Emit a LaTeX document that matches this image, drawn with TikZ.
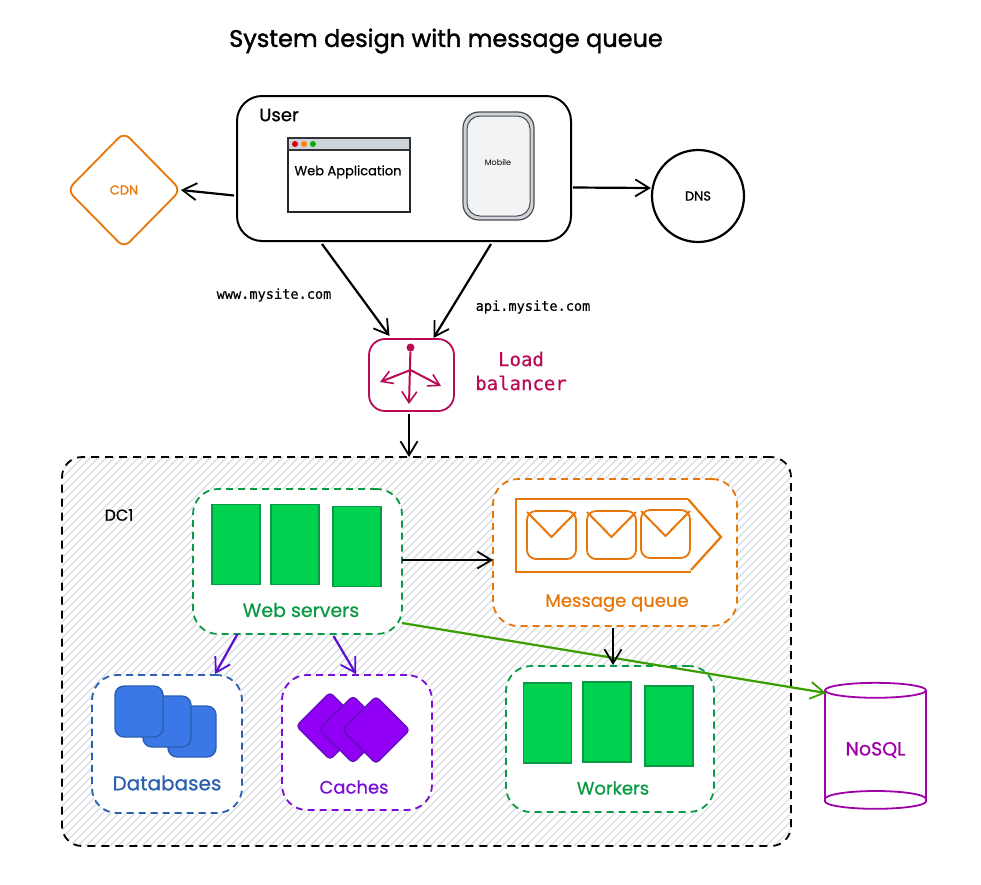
\documentclass[tikz,border=0pt]{standalone}
\usepackage{fontspec}
\setmainfont{Poppins}
\newfontfamily\handbold{Poppins}[FakeBold=0.7]
\newfontfamily\titlebold{Poppins}[FakeBold=1.6]
\setmonofont{DejaVu Sans Mono}[FakeBold=0.4]
\usetikzlibrary{arrows.meta,shapes.geometric}
\definecolor{cOrange}{HTML}{E8770A}
\definecolor{cRose}{HTML}{B80A55}
\definecolor{cGreen}{HTML}{0B9A44}
\definecolor{cFill}{HTML}{00D14F}
\definecolor{cBlue}{HTML}{2B5FB0}
\definecolor{cBlueF}{HTML}{3B78E7}
\definecolor{cPurple}{HTML}{7A0DD6}
\definecolor{cPurpleD}{HTML}{5E10B8}
\definecolor{cPurpleF}{HTML}{9100F5}
\definecolor{cArrow}{HTML}{5A10D0}
\definecolor{cMag}{HTML}{A000A8}
\definecolor{cLime}{HTML}{3A9E00}
\definecolor{cHatch}{HTML}{D8DCE1}
\definecolor{cBar}{HTML}{CED4DA}
\definecolor{cPhone}{HTML}{F1F3F5}
\tikzset{
  x=1pt,y=-1pt,
  conn/.style={draw=black,line width=2.2pt,-{Straight Barb[length=14pt,width=17pt,line width=1.8pt]}},
  box/.style={draw,rectangle,rounded corners=20pt,line width=1.8pt,inner sep=0pt,outer sep=0pt},
  group/.style={box,fill=white,dashed,dash pattern=on 7pt off 5pt},
  hand/.style={inner sep=0pt,font=\handbold\fontsize{#1}{#1}\selectfont},
  hand/.default=18,
  server/.style={draw=cGreen,fill=cFill,line width=1.4pt,minimum width=48pt,minimum height=80pt,inner sep=0pt},
  dbsq/.style={draw=cBlue,fill=cBlueF,rectangle,rounded corners=9pt,line width=1.4pt,minimum width=48pt,minimum height=51pt,inner sep=0pt},
  cachedia/.style={draw=cPurpleD,fill=cPurpleF,diamond,rounded corners=4pt,line width=1.2pt,minimum width=68pt,minimum height=68pt,inner sep=0pt},
  envbox/.style={draw=cOrange,rectangle,rounded corners=9pt,line width=1.8pt,minimum width=49pt,minimum height=48pt,inner sep=0pt},
  envflap/.style={draw=cOrange,line width=2pt},
  lbl/.style={inner sep=0pt,font=\ttfamily\fontsize{13.6}{14}\selectfont},
}
\begin{document}
\begin{tikzpicture}
\useasboundingbox (0,0) rectangle (981,884);
\fill[white] (0,0) rectangle (981,884);
% title
\node[inner sep=0pt,font=\titlebold\fontsize{24}{24}\selectfont] (title) at (446,41) {System design with message queue};
% user
\node[box,rounded corners=25pt,line width=2pt,fill=white,minimum width=334pt,minimum height=145pt] (user) at (404,168.5) {};
\node[hand=18] (usert) at (279,115) {User};
\node[draw=black!85,line width=1.6pt,fill=white,minimum width=122pt,minimum height=74pt,inner sep=0pt] (web) at (349,175) {};
\node[draw=black!80,line width=1.2pt,fill=cBar,minimum width=122pt,minimum height=12pt,inner sep=0pt] (webbar) at (349,144) {};
\node[circle,fill=red!85!black,minimum size=6pt,inner sep=0pt] (d1) at (295,144) {};
\node[circle,fill=orange,minimum size=6pt,inner sep=0pt] (d2) at (304,144) {};
\node[circle,fill=green!70!black,minimum size=6pt,inner sep=0pt] (d3) at (313,144) {};
\node[hand=13] (webt) at (348,172) {Web Application};
\node[draw=black!70,fill=cBar,rectangle,rounded corners=16pt,line width=1.2pt,minimum width=71pt,minimum height=108pt,inner sep=0pt] (mobile) at (498.5,166) {};
\node[draw=black!70,fill=cPhone,rectangle,rounded corners=13pt,line width=1pt,minimum width=63pt,minimum height=100pt,inner sep=0pt] (mobilein) at (498.5,166) {};
\node[inner sep=0pt,font=\fontsize{8}{8}\selectfont] (mobilet) at (498,162) {Mobile};
% CDN, DNS
\node[draw=cOrange,diamond,rounded corners=8pt,line width=1.8pt,fill=white,minimum width=114pt,minimum height=116pt,inner sep=0pt,text=cOrange,font=\handbold\fontsize{13}{13}\selectfont] (cdn) at (124,190) {\raisebox{-2pt}{CDN}};
\node[draw=black,circle,line width=2.2pt,minimum size=92pt,inner sep=0pt,font=\handbold\fontsize{13}{13}\selectfont] (dns) at (698,196) {DNS};
% load balancer
\node[box,draw=cRose,rounded corners=16pt,minimum width=85pt,minimum height=72pt] (lb) at (411.5,375) {};
\node[circle,fill=cRose,minimum size=8pt,inner sep=0pt] (lbdot) at (410.5,347.5) {};
\coordinate (lbhub) at (410.5,370);
\coordinate (lbl) at (380,382);
\coordinate (lbr) at (441,386);
\coordinate (lbb) at (409,404);
\begin{scope}[draw=cRose,line width=2pt]
\draw[-{Straight Barb[length=11pt,width=15pt,line width=1.6pt]}] (lbdot) -- (lbb);
\draw[-{Straight Barb[length=11pt,width=13pt,line width=1.6pt]}] (lbhub) -- (lbl);
\draw[-{Straight Barb[length=11pt,width=13pt,line width=1.6pt]}] (lbhub) -- (lbr);
\end{scope}
\node[align=center,text=cRose,inner sep=0pt,font=\ttfamily\fontsize{19}{24}\selectfont] (lbt) at (521,371) {Load\\balancer};
\node[lbl] (www) at (274,295) {www.mysite.com};
\node[lbl] (api) at (533,307) {api.mysite.com};
% DC1
\begin{scope}
\clip[rounded corners=20pt] (62,457) rectangle (791,846);
\foreach \i in {-400,-392,...,770}{
  \draw[cHatch,line width=1.1pt] (\i,884) -- (\i+500,384);
}
\end{scope}
\node[box,draw=black,dashed,dash pattern=on 8pt off 6pt,minimum width=729pt,minimum height=389pt] (dc) at (426.5,651.5) {};
\node[hand=16] (dct) at (119,515) {DC1};
% web servers
\node[group,draw=cGreen,rounded corners=25pt,minimum width=209pt,minimum height=145pt] (ws) at (297.5,561.5) {};
\node[server] (s1) at (236,544.5) {};
\node[server] (s2) at (295,544.5) {};
\node[server] (s3) at (357,546.5) {};
\node[hand=19,text=cGreen] (wst) at (301,610) {Web servers};
% message queue
\node[group,draw=cOrange,rounded corners=25pt,minimum width=244pt,minimum height=147pt] (mq) at (615,552.5) {};
\draw[cOrange,line width=2.2pt,line join=miter] (688,499) -- (516,499) -- (516,572) -- (691,572);
\draw[cOrange,line width=2.2pt] (688,499) -- (721,537) -- (691,570);
\node[envbox] (e1) at (551.5,535) {};
\node[envbox] (e2) at (611.5,535) {};
\node[envbox] (e3) at (665.5,534) {};
\draw[envflap] ([shift={(1,2)}]e1.north west) -- (e1.center |- 0,537) -- ([shift={(-1,2)}]e1.north east);
\draw[envflap] ([shift={(1,2)}]e2.north west) -- (e2.center |- 0,537) -- ([shift={(-1,2)}]e2.north east);
\draw[envflap] ([shift={(1,2)}]e3.north west) -- (e3.center |- 0,536) -- ([shift={(-1,2)}]e3.north east);
\node[hand=18,text=cOrange] (mqt) at (617,603) {Message queue};
% workers
\node[group,draw=cGreen,rounded corners=25pt,minimum width=208pt,minimum height=146pt] (wk) at (610,739) {};
\node[server] (w1) at (547.5,723) {};
\node[server] (w2) at (607,722) {};
\node[server] (w3) at (669,726) {};
\node[hand=18,text=cGreen] (wkt) at (613,788) {Workers};
% databases
\node[group,draw=cBlue,rounded corners=25pt,minimum width=150pt,minimum height=138pt] (db) at (167,744) {};
\node[dbsq] (db3) at (192,731.5) {};
\node[dbsq] (db2) at (167,721.5) {};
\node[dbsq] (db1) at (139,711.5) {};
\node[hand=20,text=cBlue] (dbt) at (167,783) {Databases};
% caches
\node[group,draw=cPurple,rounded corners=25pt,minimum width=150pt,minimum height=135pt] (ca) at (357,742.5) {};
\node[cachedia] (c1) at (330,726) {};
\node[cachedia] (c2) at (353,729.5) {};
\node[cachedia] (c3) at (376,730) {};
\node[hand=18,text=cPurple] (cat) at (354,787) {Caches};
% nosql
\node[draw=cMag,cylinder,shape border rotate=90,aspect=0.25,line width=1.8pt,minimum width=101pt,minimum height=126pt,inner sep=0pt,outer sep=0pt,text=cMag,font=\handbold\fontsize{19}{19}\selectfont] (nosql) at (875.5,750) {NoSQL};
\draw[cMag,line width=1.8pt] ([yshift=-49pt]nosql.west) arc[start angle=180,end angle=360,x radius=50.5,y radius=8];
% connectors
\draw[conn] ([xshift=-3pt,yshift=-27pt]user.west) -- ([xshift=-1pt]cdn.east);
\draw[conn] ([xshift=2pt,yshift=-19pt]user.east) -- ([yshift=8pt]dns.west);
\draw[conn] ([xshift=-82pt,yshift=-3pt]user.south) -- ([xshift=-22pt,yshift=3pt]lb.north);
\draw[conn] ([xshift=87pt,yshift=-3pt]user.south) -- ([xshift=22pt,yshift=1pt]lb.north);
\draw[conn] ([xshift=-2.5pt,yshift=-3pt]lb.south) -- ([xshift=-17.5pt]dc.north);
\draw[conn] ([yshift=1.5pt]ws.east) -- ([yshift=-7.5pt]mq.west);
\draw[conn,draw=cArrow] ([xshift=-60pt]ws.south) -- ([xshift=48pt,yshift=1pt]db.north);
\draw[conn,draw=cArrow] ([xshift=36pt,yshift=-2pt]ws.south) -- ([xshift=-1pt,yshift=1pt]ca.north);
\draw[conn,draw=cLime] ([yshift=-61.5pt]ws.east) -- ([xshift=1pt,yshift=57pt]nosql.west);
\draw[conn] ([xshift=-2pt,yshift=-2pt]mq.south) -- ([xshift=3pt,yshift=1pt]wk.north);
\end{tikzpicture}
\end{document}
